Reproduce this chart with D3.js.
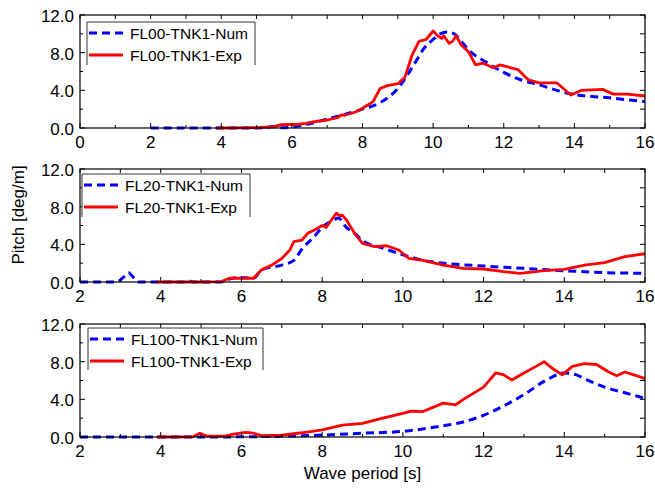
<!DOCTYPE html>
<html><head><meta charset="utf-8">
<script src="https://cdn.jsdelivr.net/npm/d3@7/dist/d3.min.js"></script>
<style>body{margin:0;background:#fff}svg{display:block}</style>
</head><body>
<script>
// ---- data ----
const fl00NumT = [2,3,4,5,5.3,5.45,5.6,6,6.5,7,7.5,8,8.5,9,9.3,9.5,9.75,10,10.2,10.4,10.6,10.8,11,11.5,12,12.5,13,13.5,14,14.5,15,15.5,16];
const fl00NumP = [0,0,0,0,0.05,0.15,0.02,0.1,0.45,0.95,1.45,2.0,2.7,4.2,5.8,7.0,8.5,9.4,10.0,10.2,10.0,9.2,8.3,7.0,5.9,5.1,4.6,4.0,3.55,3.35,3.2,3.0,2.8];
const fl00ExpT = [3.9,4.5,5,5.5,5.7,6.2,6.4,6.6,7,7.3,7.4,7.5,7.8,8,8.3,8.5,8.7,9,9.2,9.4,9.6,9.8,10,10.1,10.25,10.3,10.45,10.55,10.65,10.8,11,11.2,11.4,11.7,11.9,12.2,12.4,12.7,13,13.5,13.9,14.2,14.8,15.1,15.5,16];
const fl00ExpP = [0,0.02,0.05,0.15,0.35,0.4,0.5,0.65,0.85,1.1,1.4,1.35,1.7,2.1,2.8,4.2,4.5,4.7,5.4,7.7,9.2,9.4,10.3,9.9,9.5,9.8,9.0,9.2,9.8,8.8,8.1,6.7,6.9,6.4,6.7,6.4,6.2,5.1,4.8,4.8,3.5,4.0,4.1,3.6,3.6,3.4];

const fl20NumT = [2,2.9,3.1,3.2,3.3,3.45,4,4.6,4.7,4.8,5.5,5.7,5.9,6.3,6.5,7,7.3,7.5,7.8,8,8.3,8.4,8.6,8.8,9,9.5,10,10.5,11,12,13,14,15,16];
const fl20NumP = [0,0,0.6,1.0,0.6,0,0,0,0.12,0,0,0.3,0.5,0.4,1.3,1.8,2.3,3.5,4.8,5.8,6.6,6.8,5.8,5.2,4.4,3.6,2.9,2.3,2.0,1.7,1.45,1.2,1.0,0.92];
const fl20ExpT = [3.9,5,5.5,5.7,6.3,6.5,6.75,7,7.2,7.3,7.5,7.65,7.8,8,8.1,8.2,8.35,8.45,8.5,8.6,8.8,9,9.3,9.6,9.9,10.15,10.5,11,11.5,12,12.5,12.9,13.5,14,14.5,15,15.5,16];
const fl20ExpP = [0,0,0.05,0.4,0.4,1.3,1.8,2.5,3.4,4.3,4.45,5.2,5.5,6.0,5.8,6.4,7.3,7.0,7.1,6.6,5.2,4.1,3.75,3.85,3.4,2.5,2.3,1.8,1.45,1.38,1.1,0.92,1.2,1.35,1.8,2.05,2.7,3.0];

const fl100NumT = [2,5,6,7,8,9,10,11,11.5,12,12.5,13,13.5,14,14.3,14.5,15,15.5,16];
const fl100NumP = [0,0,0.02,0.08,0.2,0.4,0.6,1.2,1.6,2.3,3.3,4.5,5.9,6.8,6.6,6.2,5.3,4.7,4.1];
const fl100ExpT = [3.9,4.8,4.97,5.15,5.6,5.8,6.1,6.3,6.5,7,7.5,8,8.5,9,9.5,10,10.2,10.5,11,11.3,11.5,12,12.3,12.5,12.7,13,13.3,13.5,13.7,13.95,14.2,14.5,14.8,15.1,15.3,15.5,15.8,16];
const fl100ExpP = [0,0.02,0.4,0.1,0.1,0.3,0.5,0.4,0.15,0.2,0.45,0.75,1.27,1.45,2.0,2.5,2.75,2.7,3.6,3.4,4.0,5.3,6.8,6.6,6.05,6.8,7.5,8.0,7.3,6.6,7.5,7.8,7.7,6.9,6.5,6.9,6.5,6.2];

const yTicks = [0,4,8,12];
const legendNum = ["FL00-TNK1-Num","FL20-TNK1-Num","FL100-TNK1-Num"];
const legendExp = ["FL00-TNK1-Exp","FL20-TNK1-Exp","FL100-TNK1-Exp"];
const xLabel = "Wave period [s]";
const yLabel = "Pitch [deg/m]";

const panels = [
  {xMin:0, top:15, bottom:128, num:[fl00NumT,fl00NumP], exp:[fl00ExpT,fl00ExpP], leg:{x:87,y:22,w:168,h:43}, li:0},
  {xMin:2, top:169, bottom:282, num:[fl20NumT,fl20NumP], exp:[fl20ExpT,fl20ExpP], leg:{x:82,y:174,w:168,h:43}, li:1},
  {xMin:2, top:324, bottom:437, num:[fl100NumT,fl100NumP], exp:[fl100ExpT,fl100ExpP], leg:{x:88,y:328,w:175,h:42}, li:2}
];

const W=655, H=488, L=80, R=645;
const font = "Arial, 'Liberation Sans', sans-serif";
const svg = d3.select("body").append("svg").attr("width",W).attr("height",H);

panels.forEach(p=>{
  const x = d3.scaleLinear().domain([p.xMin,16]).range([L,R]);
  const y = d3.scaleLinear().domain([0,12]).range([p.bottom,p.top]);
  const g = svg.append("g");
  const xt = d3.range(p.xMin,17,1);
  const xMaj = d3.range(p.xMin,17,2);
  const yAll = d3.range(0,13,2);

  // series
  const line = (c)=>d3.line().x(d=>x(d[0])).y(d=>y(d[1])).curve(c);
  const numData = p.num[0].map((t,i)=>[t,p.num[1][i]]);
  const expData = p.exp[0].map((t,i)=>[t,p.exp[1][i]]);
  g.append("path").datum(numData).attr("d",line(d3.curveMonotoneX)).attr("fill","none")
    .attr("stroke","#0000ff").attr("stroke-width",3).attr("stroke-dasharray","8,5");
  g.append("path").datum(expData).attr("d",line(d3.curveLinear)).attr("fill","none")
    .attr("stroke","#ff0000").attr("stroke-width",2.8).attr("stroke-linejoin","round");

  // ticks (inward)
  xt.forEach(v=>{
    const maj = (v - p.xMin)%2===0;
    g.append("line").attr("x1",x(v)).attr("x2",x(v)).attr("y1",p.top).attr("y2",p.top+4).attr("stroke","#000");
    g.append("line").attr("x1",x(v)).attr("x2",x(v)).attr("y1",p.bottom).attr("y2",p.bottom-(maj?5:3)).attr("stroke","#000");
  });
  yAll.forEach(v=>{
    const maj = v%4===0;
    g.append("line").attr("x1",L).attr("x2",L+(maj?5:3)).attr("y1",y(v)).attr("y2",y(v)).attr("stroke","#000");
    g.append("line").attr("x1",R).attr("x2",R-5).attr("y1",y(v)).attr("y2",y(v)).attr("stroke","#000");
  });
  // frame
  g.append("rect").attr("x",L).attr("y",p.top).attr("width",R-L).attr("height",p.bottom-p.top)
    .attr("fill","none").attr("stroke","#000").attr("stroke-width",1.2);

  // tick labels
  xMaj.forEach(v=>{
    g.append("text").attr("x",x(v)).attr("y",p.bottom+20).attr("text-anchor","middle")
      .attr("font-family",font).attr("font-size",17).text(v);
  });
  yTicks.forEach(v=>{
    g.append("text").attr("x",L-6).attr("y",y(v)+7).attr("text-anchor","end")
      .attr("font-family",font).attr("font-size",17).text(d3.format(".1f")(v));
  });

  // legend
  const lg = p.leg;
  g.append("rect").attr("x",lg.x).attr("y",lg.y).attr("width",lg.w).attr("height",lg.h).attr("fill","#fff");
  g.append("path").attr("d",`M${lg.x},${lg.y+lg.h}V${lg.y}H${lg.x+lg.w}V${lg.y+lg.h}`)
    .attr("fill","none").attr("stroke","#333").attr("stroke-width",1);
  const ey1 = lg.y+11, ey2 = lg.y+33;
  g.append("line").attr("x1",lg.x+2).attr("x2",lg.x+36).attr("y1",ey1).attr("y2",ey1)
    .attr("stroke","#0000ff").attr("stroke-width",3).attr("stroke-dasharray","8,5");
  g.append("line").attr("x1",lg.x+2).attr("x2",lg.x+36).attr("y1",ey2).attr("y2",ey2)
    .attr("stroke","#ff0000").attr("stroke-width",2.8);
  g.append("text").attr("x",lg.x+43).attr("y",ey1+5.5).attr("font-family",font).attr("font-size",15.5).text(legendNum[p.li]);
  g.append("text").attr("x",lg.x+43).attr("y",ey2+5.5).attr("font-family",font).attr("font-size",15.5).text(legendExp[p.li]);
});

svg.append("text").attr("x",(L+R)/2).attr("y",479).attr("text-anchor","middle")
  .attr("font-family",font).attr("font-size",17).text(xLabel);
svg.append("text").attr("transform","translate(24,215) rotate(-90)").attr("text-anchor","middle")
  .attr("font-family",font).attr("font-size",17).text(yLabel);
</script>
</body></html>
